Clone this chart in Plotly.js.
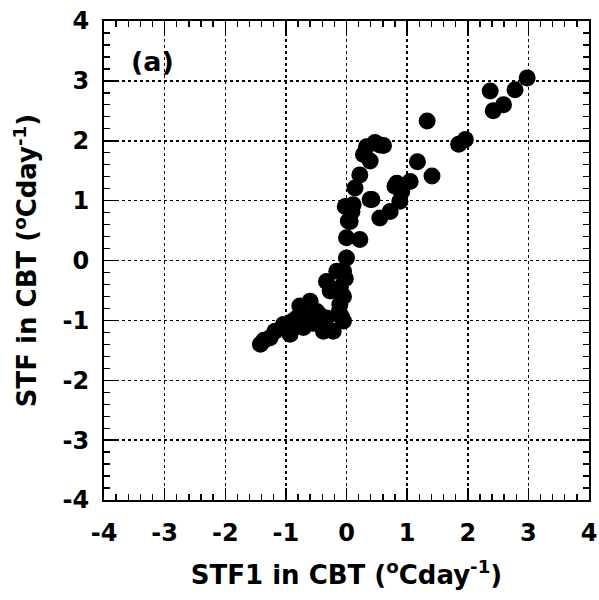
<!DOCTYPE html>
<html>
<head>
<meta charset="utf-8">
<script src="https://cdn.plot.ly/plotly-3.0.1.min.js"></script>
<style>html,body{margin:0;padding:0;background:#fff;}</style>
</head>
<body>
<div id="chart" style="width:599px;height:600px;"></div>
<script>
// STF1 (x) vs STF (y) in CBT
const stf1 = [
  -1.42, -1.36, -1.26, -1.18, -1.04, -0.93, -0.82, -0.71, -0.77, -0.60,
  -0.49, -0.38, -0.22, -0.33, -0.33, -0.27, -0.11, -0.05, -0.05, 0.00,
  -0.16, -0.10, -0.05, -0.12, -0.02, -0.08, -0.55, -0.45, -0.65, -0.90,
  -0.02, 0.06, 0.00, 0.22, 0.09, 0.03, 0.11, 0.14, 0.22, 0.39,
  0.28, 0.33, 0.39, 0.47, 0.55, 0.61, 0.42,
  0.55, 0.72, 0.88, 0.80, 0.83, 1.05, 0.91, 1.17, 1.41, 1.33,
  1.85, 1.96, 2.42, 2.59, 2.37, 2.78, 2.98
];
const stf = [
  -1.40, -1.33, -1.29, -1.18, -1.07, -1.23, -0.96, -1.12, -0.76, -0.68,
  -0.85, -1.18, -1.18, -0.96, -0.35, -0.51, -0.73, -0.18, -1.01, 0.04,
  -0.18, -0.45, -0.60, -0.85, -0.30, -0.95, -1.05, -0.90, -0.95, -1.02,
  0.90, 0.65, 0.38, 0.35, 0.82, 0.66, 0.93, 1.21, 1.43, 1.02,
  1.77, 1.90, 1.66, 1.97, 1.93, 1.92, 1.02,
  0.71, 0.82, 0.99, 1.24, 1.29, 1.32, 1.15, 1.65, 1.41, 2.33,
  1.94, 2.02, 2.50, 2.60, 2.83, 2.85, 3.05
];
const tickVals = [-4, -3, -2, -1, 0, 1, 2, 3, 4];
const tickText = ['-4', '-3', '-2', '-1', '0', '1', '2', '3', '4'];

const fontFam = 'DejaVu Sans, Liberation Sans, Arial, sans-serif';
const axisCommon = {
  range: [-4, 4],
  tickvals: tickVals,
  ticktext: tickText,
  ticks: 'inside',
  ticklen: 12,
  tickwidth: 1.5,
  tickcolor: '#000',
  mirror: 'allticks',
  showline: true,
  linecolor: '#000',
  linewidth: 2,
  showgrid: true,
  gridcolor: '#000',
  gridwidth: 1.5,
  griddash: 'dot',
  zeroline: false,
  tickfont: {family: fontFam, size: 24, color: '#000', weight: 'bold'},
  minor: {dtick: 0.2, ticks: 'inside', ticklen: 6, tickwidth: 1.3, tickcolor: '#000', showgrid: false},
  fixedrange: true
};

const data = [{
  x: stf1,
  y: stf,
  type: 'scatter',
  mode: 'markers',
  marker: {color: '#000', size: 17, line: {width: 0}},
  hoverinfo: 'skip'
}];

const titleFont = {family: fontFam, size: 26, color: '#000', weight: 'bold'};

const layout = {
  width: 599,
  height: 600,
  margin: {l: 104, r: 10, t: 21, b: 100},
  paper_bgcolor: '#fff',
  plot_bgcolor: '#fff',
  showlegend: false,
  xaxis: Object.assign({}, axisCommon, {
    ticklabelstandoff: 10,
    title: {text: 'STF1 in CBT (<sup>o</sup>Cday<sup>-1</sup>)', font: titleFont, standoff: 20}
  }),
  yaxis: Object.assign({}, axisCommon, {
    ticklabelstandoff: 8,
    title: {text: 'STF in CBT (<sup>o</sup>Cday<sup>-1</sup>)', font: titleFont, standoff: 18}
  }),
  annotations: [{
    text: '(a)', x: -3.2, y: 3.32, xref: 'x', yref: 'y', showarrow: false,
    font: {family: fontFam, size: 27, color: '#000', weight: 'bold'}
  }]
};

Plotly.newPlot('chart', data, layout, {displayModeBar: false, staticPlot: true});
</script>
</body>
</html>
